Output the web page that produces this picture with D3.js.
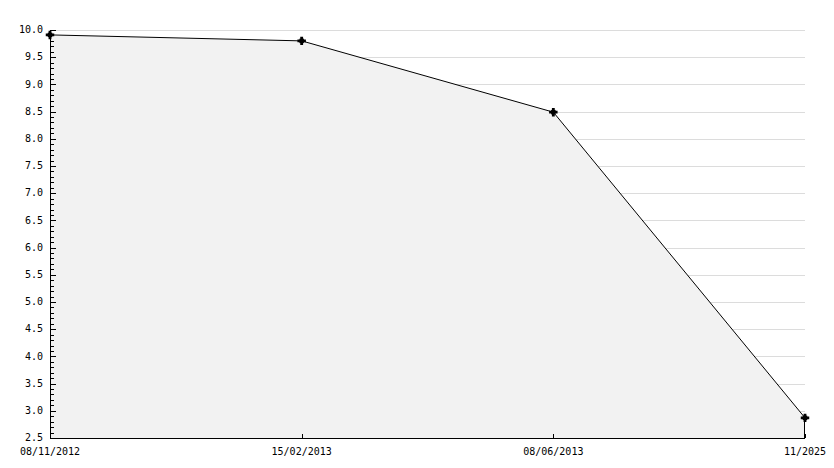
<!DOCTYPE html>
<meta charset="utf-8">
<script src="https://d3js.org/d3.v7.min.js"></script>
<style>
body { margin: 0; background: #fff; }
text { font-family: "DejaVu Sans Mono", monospace; font-size: 10px; fill: #000; }
</style>
<div id="chart"></div>
<script>
// data
var dates = ["08/11/2012", "15/02/2013", "08/06/2013", "11/2025"];
var values = [9.91, 9.8, 8.49, 2.87];
var yTicks = d3.range(2.5, 10.01, 0.5);

var margin = {top: 30, right: 29, bottom: 30, left: 50},
    width = 834 - margin.left - margin.right,
    height = 468 - margin.top - margin.bottom;

var svg = d3.select("#chart")
  .append("svg")
    .attr("width", 834)
    .attr("height", 468)
  .append("g")
    .attr("transform", "translate(" + margin.left + "," + margin.top + ")");

var x = d3.scalePoint()
  .domain(dates)
  .range([0, width]);

var y = d3.scaleLinear()
  .domain([2.5, 10])
  .range([height, 0]);

var data = dates.map(function(d, i) { return {date: d, value: values[i]}; });

// gridlines
svg.append("g")
  .selectAll("line")
  .data(yTicks)
  .enter()
  .append("line")
    .attr("x1", 0)
    .attr("x2", width)
    .attr("y1", function(d) { return Math.round(y(d)) + 0.5; })
    .attr("y2", function(d) { return Math.round(y(d)) + 0.5; })
    .style("stroke", "#dcdcdc")
    .style("shape-rendering", "crispEdges");

// filled area under the line
svg.append("path")
  .datum(data)
  .attr("d", d3.area()
    .x(function(d) { return x(d.date); })
    .y0(height)
    .y1(function(d) { return y(d.value); }))
  .style("fill", "#f2f2f2");

// line
svg.append("path")
  .datum(data)
  .attr("d", d3.line()
    .x(function(d) { return x(d.date); })
    .y(function(d) { return y(d.value); }))
  .style("fill", "none")
  .style("stroke", "#000")
  .style("stroke-width", 1);

// right edge of the area
var last = data[data.length - 1];
svg.append("line")
  .attr("x1", x(last.date) - 0.5)
  .attr("x2", x(last.date) - 0.5)
  .attr("y1", y(last.value))
  .attr("y2", height)
  .style("stroke", "#000");

// y axis with minor ticks
var yMinor = d3.range(25, 101, 1).map(function(d) { return d / 10; });
svg.append("g")
  .attr("class", "y-minor")
  .selectAll("line")
  .data(yMinor)
  .enter()
  .append("line")
    .attr("x1", 0)
    .attr("x2", function(d) { return Math.abs(d * 2 - Math.round(d * 2)) < 1e-6 ? 6 : 4; })
    .attr("y1", function(d) { return Math.round(y(d)) + 0.5; })
    .attr("y2", function(d) { return Math.round(y(d)) + 0.5; })
    .style("stroke", "#000")
    .style("shape-rendering", "crispEdges");

svg.append("line")
  .attr("x1", 0.5).attr("x2", 0.5)
  .attr("y1", 0).attr("y2", height)
  .style("stroke", "#000")
  .style("shape-rendering", "crispEdges");

svg.append("g")
  .selectAll("text")
  .data(yTicks)
  .enter()
  .append("text")
    .attr("x", -7)
    .attr("y", function(d) { return y(d); })
    .attr("dy", "0.32em")
    .attr("text-anchor", "end")
    .text(function(d) { return d.toFixed(1); });

// x axis
svg.append("line")
  .attr("x1", 0).attr("x2", width)
  .attr("y1", height + 0.5).attr("y2", height + 0.5)
  .style("stroke", "#000")
  .style("shape-rendering", "crispEdges");

svg.append("g")
  .selectAll("line")
  .data(dates)
  .enter()
  .append("line")
    .attr("x1", function(d) { return Math.round(x(d)) + 0.5; })
    .attr("x2", function(d) { return Math.round(x(d)) + 0.5; })
    .attr("y1", height)
    .attr("y2", height - 4)
    .style("stroke", "#000")
    .style("shape-rendering", "crispEdges");

svg.append("g")
  .selectAll("text")
  .data(dates)
  .enter()
  .append("text")
    .attr("x", function(d) { return x(d); })
    .attr("y", height + 17)
    .attr("text-anchor", "middle")
    .text(function(d) { return d; });

// markers
var pts = svg.append("g")
  .selectAll("g")
  .data(data)
  .enter()
  .append("g")
    .attr("transform", function(d) { return "translate(" + x(d.date) + "," + y(d.value) + ")"; });
pts.append("path")
  .attr("d", d3.symbol().type(d3.symbolSquare).size(20))
  .style("fill", "#000");
pts.append("path")
  .attr("d", d3.symbol().type(d3.symbolCross).size(40))
  .style("fill", "#000");
</script>
